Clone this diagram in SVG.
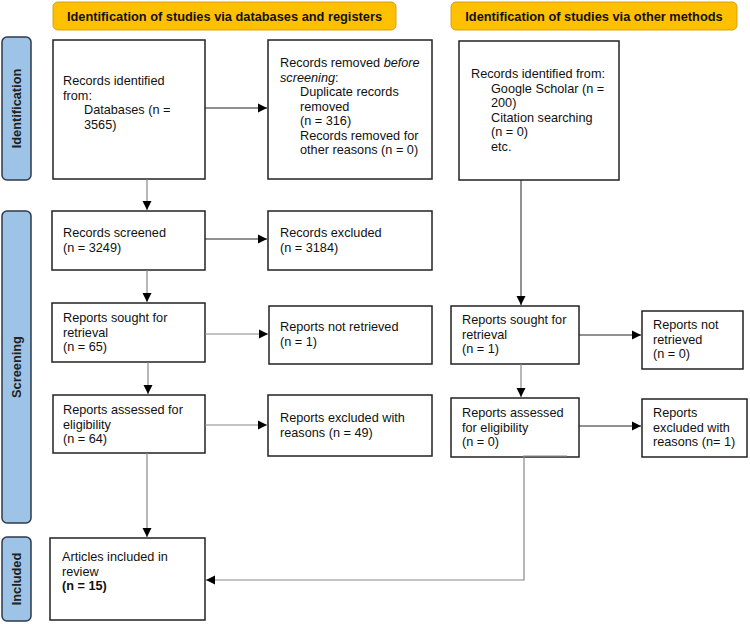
<svg xmlns="http://www.w3.org/2000/svg" width="750" height="624" viewBox="0 0 750 624">
<defs>
<marker id="ah" markerWidth="10" markerHeight="10" refX="9" refY="5" orient="auto" markerUnits="userSpaceOnUse">
<path d="M0,0.5 L9,5 L0,9.5 Z" fill="#000"/>
</marker>
<style>
.box{fill:#fff;stroke:#222;stroke-width:1.5}
.hdr{fill:#FFC000;stroke:#D4A017;stroke-width:1}
.side{fill:#9DC3E6;stroke:#2E3A4A;stroke-width:1.5}
.t{font-family:"Liberation Sans",Arial,sans-serif;font-size:12.7px;fill:#111}
.hb{font-family:"Liberation Sans",Arial,sans-serif;font-size:12.8px;font-weight:bold;fill:#111}
.sb{font-family:"Liberation Sans",Arial,sans-serif;font-size:12.8px;font-weight:bold;fill:#222}
.c{fill:none;stroke:#222;stroke-width:1}
.g{fill:none;stroke:#888;stroke-width:1.2}
</style>
</defs>

<g id="header-databases"><rect class="hdr" x="53" y="2" width="343" height="28" rx="5"/><text class="hb" x="224.5" y="21" text-anchor="middle">Identification of studies via databases and registers</text></g>
<g id="header-other"><rect class="hdr" x="451" y="2" width="286" height="28" rx="5"/><text class="hb" x="594" y="21" text-anchor="middle">Identification of studies via other methods</text></g>

<g id="side-identification"><rect class="side" x="2" y="37" width="29" height="143" rx="5"/><text class="sb" transform="translate(21,108.5) rotate(-90)" text-anchor="middle">Identification</text></g>
<g id="side-screening"><rect class="side" x="2" y="211" width="29" height="312" rx="5"/><text class="sb" transform="translate(21,367) rotate(-90)" text-anchor="middle">Screening</text></g>
<g id="side-included"><rect class="side" x="2" y="537" width="29" height="84" rx="5"/><text class="sb" transform="translate(21,579) rotate(-90)" text-anchor="middle">Included</text></g>

<g id="records-identified"><rect class="box" x="53" y="40" width="152" height="139"/>
<text class="t" x="63" y="85">Records identified</text><text class="t" x="63" y="99.5">from:</text><text class="t" x="84" y="114">Databases (n =</text><text class="t" x="84" y="128.5">3565)</text></g>

<g id="records-removed"><rect class="box" x="268" y="40" width="164" height="139"/>
<text class="t" x="280" y="67">Records removed <tspan font-style="italic">before</tspan></text>
<text class="t" x="280" y="81.5"><tspan font-style="italic">screening</tspan>:</text>
<text class="t" x="300" y="96">Duplicate records</text>
<text class="t" x="300" y="110.5">removed</text>
<text class="t" x="300" y="125">(n = 316)</text>
<text class="t" x="300" y="139.5">Records removed for</text>
<text class="t" x="300" y="154">other reasons (n = 0)</text></g>

<g id="other-identified"><rect class="box" x="459" y="41" width="160" height="139"/>
<text class="t" x="471" y="78">Records identified from:</text>
<text class="t" x="491" y="92.5">Google Scholar (n =</text>
<text class="t" x="491" y="107">200)</text>
<text class="t" x="491" y="121.5">Citation searching</text>
<text class="t" x="491" y="136">(n = 0)</text>
<text class="t" x="491" y="150.5">etc.</text></g>

<g id="records-screened"><rect class="box" x="52" y="211" width="153" height="59"/>
<text class="t" x="63" y="237">Records screened</text><text class="t" x="63" y="252">(n = 3249)</text></g>

<g id="records-excluded"><rect class="box" x="268" y="211" width="164" height="59"/>
<text class="t" x="280" y="237">Records excluded</text><text class="t" x="280" y="252">(n = 3184)</text></g>

<g id="reports-sought"><rect class="box" x="52" y="303" width="153" height="59"/>
<text class="t" x="63" y="322">Reports sought for</text><text class="t" x="63" y="336.5">retrieval</text><text class="t" x="63" y="351">(n = 65)</text></g>

<g id="reports-not-retrieved"><rect class="box" x="269" y="306" width="163" height="58"/>
<text class="t" x="280" y="331">Reports not retrieved</text><text class="t" x="280" y="346">(n = 1)</text></g>

<g id="other-sought"><rect class="box" x="451" y="306" width="128" height="58"/>
<text class="t" x="462" y="324">Reports sought for</text><text class="t" x="462" y="338.5">retrieval</text><text class="t" x="462" y="353">(n = 1)</text></g>

<g id="other-not-retrieved"><rect class="box" x="642" y="311" width="101" height="58"/>
<text class="t" x="653" y="329">Reports not</text><text class="t" x="653" y="343.5">retrieved</text><text class="t" x="653" y="358">(n = 0)</text></g>

<g id="reports-assessed"><rect class="box" x="53" y="395" width="152" height="58"/>
<text class="t" x="63" y="414">Reports assessed for</text><text class="t" x="63" y="428.5">eligibility</text><text class="t" x="63" y="443">(n = 64)</text></g>

<g id="reports-excluded"><rect class="box" x="268" y="395" width="164" height="61"/>
<text class="t" x="280" y="422">Reports excluded with</text><text class="t" x="280" y="437">reasons (n = 49)</text></g>

<g id="other-assessed"><rect class="box" x="451" y="398" width="128" height="59"/>
<text class="t" x="462" y="417">Reports assessed</text><text class="t" x="462" y="431.5">for eligibility</text><text class="t" x="462" y="446">(n = 0)</text></g>

<g id="other-excluded"><rect class="box" x="642" y="399" width="105" height="58"/>
<text class="t" x="653" y="417">Reports</text><text class="t" x="653" y="431.5">excluded with</text><text class="t" x="653" y="446">reasons (n= 1)</text></g>

<g id="articles-included"><rect class="box" x="50" y="538" width="155" height="82"/>
<text class="t" x="62" y="561">Articles included in</text><text class="t" x="62" y="575.5">review</text><text class="t" x="62" y="590" font-weight="bold">(n = 15)</text></g>

<g id="connectors">
<line class="c" x1="205" y1="108" x2="267" y2="108" marker-end="url(#ah)"/>
<line class="g" x1="147" y1="179" x2="147" y2="210" marker-end="url(#ah)"/>
<line class="c" x1="205" y1="239" x2="267" y2="239" marker-end="url(#ah)"/>
<line class="g" x1="147" y1="270" x2="147" y2="302" marker-end="url(#ah)"/>
<line class="g" x1="205" y1="334" x2="268" y2="334" marker-end="url(#ah)"/>
<line class="g" x1="148" y1="362" x2="148" y2="394" marker-end="url(#ah)"/>
<line class="g" x1="205" y1="425" x2="267" y2="425" marker-end="url(#ah)"/>
<line class="g" x1="147" y1="453" x2="147" y2="537" marker-end="url(#ah)"/>
<line class="c" x1="521" y1="180" x2="521" y2="305" marker-end="url(#ah)"/>
<line class="c" x1="579" y1="335" x2="641" y2="335" marker-end="url(#ah)"/>
<line class="g" x1="521" y1="364" x2="521" y2="397" marker-end="url(#ah)"/>
<line class="c" x1="579" y1="426" x2="641" y2="426" marker-end="url(#ah)"/>
<polyline class="g" points="523,456 567,456"/>
<polyline class="g" points="524,456 524,580 206,580" marker-end="url(#ah)"/>
</g>
</svg>
